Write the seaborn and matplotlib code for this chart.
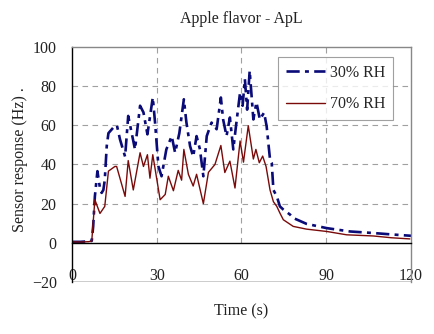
import numpy as np
import pandas as pd
import matplotlib
matplotlib.use("Agg")
import matplotlib.pyplot as plt
import seaborn as sns

# 30% RH (blue, dash-dot)
t30 = [0, 3, 6, 7.0, 7.5, 8.1, 9.0, 10.0, 10.5, 11.1, 11.6, 12.3, 12.9, 14.6, 15.9, 17.0, 18.8, 19.9,
       21.1, 22.3, 24.1, 25.3, 26.7, 28.6, 29.4, 30.6, 31.7, 33.4, 35.3, 36.5, 38.0, 39.6, 40.5,
       41.8, 42.9, 44.1, 45.3, 46.5, 47.7, 49.4, 51.2, 52.7, 53.5, 54.7, 55.9, 57.1, 58.0, 59.5,
       60.4, 61.2, 62.0, 62.9, 64.2, 65.3, 66.5, 68.0, 68.9, 70.1, 70.7, 71.3, 72.5, 73.6, 74.8,
       77.2, 78.3, 83.0, 90.2, 98.4, 106.7, 113.0, 120.0]
v30 = [0.5, 0.5, 0.8, 1.0, 8.4, 23.7, 36.6, 27.0, 25.5, 27.0, 32.0, 49.4, 56.0, 58.8, 60.0, 52.8, 44.0, 64.8,
       56.3, 47.7, 70.0, 66.6, 55.4, 74.2, 61.5, 39.0, 34.0, 47.7, 54.5, 46.0, 56.0, 73.3, 61.5,
       49.4, 44.0, 54.5, 47.7, 34.0, 54.5, 61.4, 58.0, 74.2, 63.0, 54.5, 64.0, 47.7, 59.0, 76.8,
       70.0, 83.6, 68.0, 87.9, 63.0, 71.8, 63.0, 66.5, 59.6, 42.6, 40.9, 27.0, 23.7, 18.6, 17.0,
       14.4, 12.7, 9.7, 7.5, 5.8, 5.0, 4.3, 3.6]

# 70% RH (red, solid)
t70 = [0, 3, 6, 7.0, 8.1, 9.9, 11.6, 12.9, 15.2, 15.8, 18.8, 19.9, 21.7, 24.1, 25.3, 26.7, 27.6, 28.6,
       31.2, 33.0, 34.1, 35.9, 37.6, 38.8, 39.6, 41.2, 42.9, 44.1, 46.5, 48.3, 50.6, 52.7, 54.1,
       55.9, 57.7, 59.5, 60.7, 62.4, 64.2, 65.1, 66.3, 67.5, 68.7, 70.1, 71.3, 72.5, 73.6, 74.8,
       78.3, 83.0, 90.2, 97.2, 106.7, 113.0, 119.6]
v70 = [0.5, 0.4, 0.6, 1.0, 22.0, 15.0, 18.6, 36.6, 39.0, 39.0, 23.7, 42.0, 27.0, 46.0, 39.0, 45.0, 33.0, 45.0,
       22.0, 24.7, 34.0, 26.6, 37.0, 32.0, 47.7, 35.0, 29.0, 35.0, 20.0, 36.0, 40.0, 49.7, 35.9,
       41.7, 28.0, 52.0, 41.2, 59.8, 42.8, 47.7, 40.9, 44.3, 39.0, 27.0, 21.0, 18.6, 15.2, 11.8,
       8.4, 7.0, 5.8, 4.1, 3.5, 2.6, 2.0]

df30 = pd.DataFrame({"t": t30, "v": v30})
df70 = pd.DataFrame({"t": t70, "v": v70})

sns.set_style("white")
plt.rcParams["font.family"] = ["Liberation Serif", "DejaVu Serif"]

fig = plt.figure(figsize=(4.35, 3.34), dpi=100)
ax = fig.add_axes([0.1655, 0.1557, 0.7793, 0.7036])

sns.lineplot(data=df30, x="t", y="v", ax=ax, color="#0a0a78", lw=1.9,
             linestyle=(0, (5, 2, 1.5, 2)), label="30% RH")
sns.lineplot(data=df70, x="t", y="v", ax=ax, color="#7a0a0a", lw=1.0, label="70% RH")

ax.set_xlim(0, 120)
ax.set_ylim(-20, 100)
ax.set_xticks([0, 30, 60, 90, 120])
ax.set_yticks([-20, 0, 20, 40, 60, 80, 100])

# grid
for yv in [20, 40, 60, 80]:
    ax.axhline(yv, color="#a0a0a0", lw=0.8, ls=(0, (5, 4)), zorder=0)
for xv in [30, 60, 90]:
    ax.plot([xv, xv], [0, 100], color="#a0a0a0", lw=0.8, ls=(0, (5, 4)), zorder=0)

for s in ax.spines.values():
    s.set_color("black")
    s.set_linewidth(1.0)
ax.spines["bottom"].set_position(("data", 0))
ax.axhline(-20, color="black", lw=1.0, zorder=5)
ax.spines["right"].set_color("#888888")
ax.spines["top"].set_color("#888888")

ax.tick_params(axis="x", direction="out", length=5, width=0.8, pad=13, labelsize=11.5,
               colors="#222222")
ax.tick_params(axis="y", length=0, pad=11, labelsize=11.5, colors="#222222")

ax.set_xlabel("Time (s)", fontsize=11.5, color="#222222")
ax.xaxis.set_label_coords(0.5, -0.09)
ax.set_ylabel("Sensor response (Hz) .", fontsize=11.5, color="#222222")
ax.yaxis.set_label_coords(-0.13, 0.52)
ax.set_title("Apple flavor - ApL", fontsize=11.5, color="#222222", pad=17)

leg = ax.legend(loc="upper right", bbox_to_anchor=(0.947, 0.957), borderaxespad=0,
                fontsize=11.5, frameon=True, fancybox=False, edgecolor="#888888",
                handlelength=2.4, borderpad=0.5, labelspacing=0.95, handletextpad=0.3)
leg.get_frame().set_linewidth(0.8)

fig.savefig("out.png", dpi=100)
